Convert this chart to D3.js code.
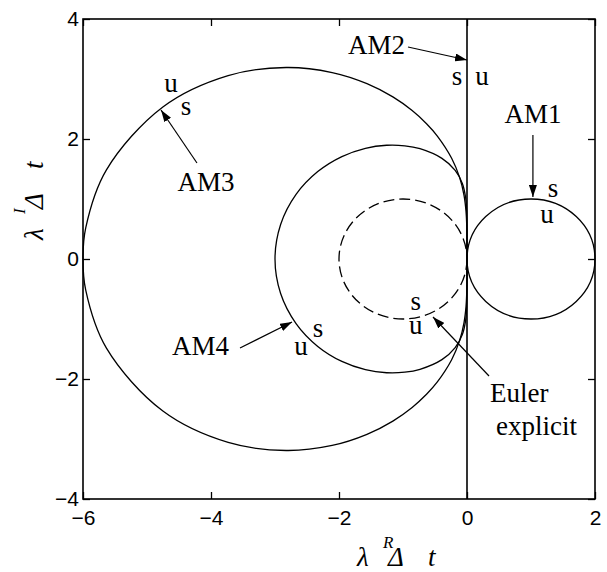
<!DOCTYPE html>
<html>
<head>
<meta charset="utf-8">
<script src="https://cdn.jsdelivr.net/npm/d3@7"></script>
<style>
  body { margin: 0; background: #fff; }
  .tick text { font-family: "Liberation Sans", Arial, sans-serif; font-size: 21px; fill: #000; }
  .note { font-family: "Liberation Serif", "Times New Roman", serif; font-size: 27px; fill: #000; }
  .axlab { font-family: "Liberation Serif", "Times New Roman", serif; font-style: italic; fill: #000; }
</style>
</head>
<body>
<svg id="chart" width="607" height="572"></svg>
<script>
// Axis ticks
const xTicks = [-6, -4, -2, 0, 2];
const yTicks = [-4, -2, 0, 2, 4];

// Stability boundary of the 3-step Adams-Moulton scheme (AM3), λΔt plane
const am3Boundary = [
  [0, 0], [-0.0002, 0.2618], [-0.0031, 0.5242], [-0.0152, 0.7896], [-0.0472, 1.0638],
  [-0.1144, 1.3563], [-0.24, 1.68], [-0.4633, 2.0497], [-0.6322, 2.2554], [-0.8571, 2.4744],
  [-1.1583, 2.7015], [-1.5631, 2.9231], [-2.1068, 3.1079], [-2.8258, 3.1917], [-3.7324, 3.0578],
  [-4.7519, 2.5349], [-5.636, 1.4824], [-5.9574, 0.5202], [-6, 0],
  [-5.9574, -0.5202], [-5.636, -1.4824], [-4.7519, -2.5349], [-3.7324, -3.0578], [-2.8258, -3.1917],
  [-2.1068, -3.1079], [-1.5631, -2.9231], [-1.1583, -2.7015], [-0.8571, -2.4744], [-0.6322, -2.2554],
  [-0.4633, -2.0497], [-0.24, -1.68], [-0.1144, -1.3563], [-0.0472, -1.0638], [-0.0152, -0.7896],
  [-0.0031, -0.5242], [-0.0002, -0.2618]
];

// Stability boundary of AM4
const am4Boundary = [
  [0, 0], [0, 0.2618], [-0.0004, 0.5227], [-0.0043, 0.7792], [-0.0219, 1.0259],
  [-0.0728, 1.2588], [-0.1846, 1.4769], [-0.3916, 1.677], [-0.7347, 1.8381], [-0.971, 1.8866],
  [-1.2558, 1.8958], [-1.5875, 1.8448], [-1.9552, 1.7074], [-2.3319, 1.4569], [-2.6711, 1.0764],
  [-2.9121, 0.5755], [-3, 0],
  [-2.9121, -0.5755], [-2.6711, -1.0764], [-2.3319, -1.4569], [-1.9552, -1.7074], [-1.5875, -1.8448],
  [-1.2558, -1.8958], [-0.971, -1.8866], [-0.7347, -1.8381], [-0.3916, -1.677], [-0.1846, -1.4769],
  [-0.0728, -1.2588], [-0.0219, -1.0259], [-0.0043, -0.7792], [-0.0004, -0.5227], [0, -0.2618]
];

// Circular boundaries: AM1 (implicit Euler) and explicit Euler
const circleNames = ["AM1", "Euler explicit"];
const circleCentres = [1, -1];
const circleRadii = [1, 1];
const circleDashed = [false, true];

// AM2 (trapezoidal): the imaginary axis
const am2Line = [[0, -4], [0, 4]];

// Text annotations [lines, x, y, anchor]; multi-line entries stack downwards
const notes = [
  [["AM2"], -0.969, 3.417, "end"],
  [["s"], -0.156, 2.9, "middle"], [["u"], 0.234, 2.9, "middle"],
  [["AM1"], 1.03, 2.267, "middle"],
  [["s"], 1.344, 1.033, "middle"], [["u"], 1.25, 0.6, "middle"],
  [["u"], -4.625, 2.783, "middle"], [["s"], -4.39, 2.4, "middle"],
  [["AM3"], -4.078, 1.133, "middle"],
  [["AM4"], -3.719, -1.6, "end"],
  [["u"], -2.594, -1.6, "middle"], [["s"], -2.328, -1.3, "middle"],
  [["s", "u"], -0.8, -0.85, "middle"],
  [["Euler"], 0.359, -2.383, "start"], [["explicit"], 0.453, -2.933, "start"]
];

// Pointer arrows [fromX, fromY, toX, toY]
const arrows = [
  [-0.922, 3.533, 0, 3.317],
  [1.03, 2.067, 1.03, 1.033],
  [-4.219, 1.6, -4.781, 2.483],
  [-3.547, -1.483, -2.734, -1.05],
  [0.344, -1.95, -0.531, -0.967]
];

const svg = d3.select("#chart");
const x = d3.scaleLinear().domain([-6, 2]).range([83, 595]);
const y = d3.scaleLinear().domain([-4, 4]).range([499, 19]);

// arrowhead
svg.append("defs").append("marker")
  .attr("id", "head").attr("viewBox", "0 0 12 8")
  .attr("refX", 12).attr("refY", 4)
  .attr("markerWidth", 12).attr("markerHeight", 8)
  .attr("markerUnits", "userSpaceOnUse").attr("orient", "auto")
  .append("path").attr("d", "M0,0 L12,4 L0,8 Z").attr("fill", "#000");

// axes with inward ticks
const gx = svg.append("g").attr("transform", `translate(0,${y(-4)})`)
  .call(d3.axisBottom(x).tickValues(xTicks).tickSize(-7).tickPadding(11));
const gy = svg.append("g").attr("transform", `translate(${x(-6)},0)`)
  .call(d3.axisLeft(y).tickValues(yTicks).tickSize(-7).tickPadding(4));
const gt = svg.append("g").attr("transform", `translate(0,${y(4)})`)
  .call(d3.axisTop(x).tickValues(xTicks).tickSize(-7).tickFormat(""));
const gr = svg.append("g").attr("transform", `translate(${x(2)},0)`)
  .call(d3.axisRight(y).tickValues(yTicks).tickSize(-7).tickFormat(""));
[gx, gy, gt, gr].forEach(g => {
  g.select(".domain").remove();
  g.selectAll(".tick line").attr("stroke", "#000").attr("stroke-width", 1.3);
});

// plot frame
svg.append("rect")
  .attr("x", x(-6)).attr("y", y(4))
  .attr("width", x(2) - x(-6)).attr("height", y(-4) - y(4))
  .attr("fill", "none").attr("stroke", "#000").attr("stroke-width", 1.6);

// AM2 line
svg.append("path")
  .attr("d", d3.line().x(d => x(d[0])).y(d => y(d[1]))(am2Line))
  .attr("stroke", "#000").attr("stroke-width", 1.6).attr("fill", "none");

// AM3, AM4 closed boundaries
const loop = d3.line().x(d => x(d[0])).y(d => y(d[1])).curve(d3.curveCatmullRomClosed.alpha(0.5));
[am3Boundary, am4Boundary].forEach(pts => {
  svg.append("path").attr("d", loop(pts))
    .attr("fill", "none").attr("stroke", "#000").attr("stroke-width", 1.3);
});

// circles
circleNames.forEach((n, i) => {
  svg.append("ellipse")
    .attr("cx", x(circleCentres[i])).attr("cy", y(0))
    .attr("rx", x(circleRadii[i]) - x(0)).attr("ry", y(0) - y(circleRadii[i]))
    .attr("fill", "none").attr("stroke", "#000").attr("stroke-width", 1.3)
    .attr("stroke-dasharray", circleDashed[i] ? "11,5" : null);
});

// arrows
arrows.forEach(a => {
  svg.append("line")
    .attr("x1", x(a[0])).attr("y1", y(a[1]))
    .attr("x2", x(a[2])).attr("y2", y(a[3]))
    .attr("stroke", "#000").attr("stroke-width", 1.2)
    .attr("marker-end", "url(#head)");
});

// annotation text
notes.forEach(n => {
  const t = svg.append("text").attr("class", "note")
    .attr("x", x(n[1])).attr("y", y(n[2]))
    .attr("text-anchor", n[3]);
  n[0].forEach((line, i) => {
    t.append("tspan").attr("x", x(n[1]))
      .attr("dy", i === 0 ? 0 : 24).text(line);
  });
});

// axis titles: λ, superscript, Δ, t in one text element
function axisTitle(g, sup) {
  const t = g.append("text").attr("class", "axlab").attr("font-size", 27);
  t.append("tspan").attr("x", 0).attr("y", 0).text("λ");
  t.append("tspan").attr("x", 26).attr("y", -18).attr("font-size", 17).text(sup);
  t.append("tspan").attr("x", 31).attr("y", 0).text("Δ");
  t.append("tspan").attr("x", 71).attr("y", 0).text("t");
}
axisTitle(svg.append("g").attr("transform", "translate(357,566)"), "R");
axisTitle(svg.append("g").attr("transform", "translate(43,240) rotate(-90)"), "I");
</script>
</body>
</html>
